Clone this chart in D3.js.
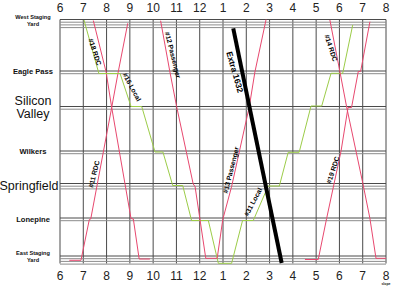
<!DOCTYPE html>
<html>
<head>
<meta charset="utf-8">
<script src="https://cdn.jsdelivr.net/npm/d3@7"></script>
<style>
  body { margin: 0; background: #fff; }
  svg { display: block; font-family: 'Liberation Sans', Arial, sans-serif; }
</style>
</head>
<body>
<svg id="chart" width="400" height="286"></svg>
<script>
// hours of the day, 6am .. 8pm
const hours = [6, 7, 8, 9, 10, 11, 12, 13, 14, 15, 16, 17, 18, 19, 20];
const hourLabels = ['6', '7', '8', '9', '10', '11', '12', '1', '2', '3', '4', '5', '6', '7', '8'];

// stations along the line (milepost from the west end) and number of tracks drawn
const stations = ['West Staging Yard', 'Eagle Pass', 'Silicon Valley', 'Wilkers', 'Springfield', 'Lonepine', 'East Staging Yard'];
const mileposts = [0, 51.5, 87, 131.5, 164, 198.5, 236.5];
const trackCounts = [4, 2, 2, 2, 3, 2, 4];

// trains: [hour, milepost] for each timetable point
const trainNames = ['#18 RDC', '#11 RDC', '#16 Local', '#31 Local', '#12 Passenger', '#13 Passenger', 'Extra 1632', '#14 RDC', '#19 RDC'];
const trainTypes = ['rdc', 'rdc', 'local', 'local', 'passenger', 'passenger', 'extra', 'rdc', 'rdc'];
const trainRuns = [
  [[7.43, 1], [7.98, 52.5], [8.22, 88], [9.05, 199], [9.15, 199.5], [9.40, 239.5], [9.86, 239.5]],
  [[6.40, 240.8], [6.90, 240.8], [7.26, 200], [7.32, 199.5], [8.22, 88], [8.50, 52.5], [8.91, 3.8]],
  [[7.03, 0.5], [7.67, 54], [8.58, 54], [9.05, 87], [9.51, 87], [10.08, 132.5], [10.42, 132.5],
   [10.84, 166], [11.27, 166], [11.65, 201], [12.37, 201], [12.80, 243.8], [13.37, 243.8]],
  [[13.37, 243.8], [13.84, 201], [14.30, 201], [14.94, 166.5], [15.42, 166.5], [15.80, 132.8],
   [16.27, 132.8], [16.78, 86.5], [17.24, 86.5], [17.64, 53.8], [18.14, 53.8], [18.57, 5.5]],
  [[10.32, 1.2], [10.72, 52.5], [11.01, 87.2], [11.72, 164.5], [11.80, 167], [12.26, 238.8], [12.75, 238.8]],
  [[12.75, 238.8], [12.99, 200], [13.37, 167], [14.13, 87], [14.37, 52.5], [14.85, 0]],
  [[13.44, 8.8], [15.52, 243.5]],
  [[17.59, 0.5], [18.02, 52.2], [18.31, 87.5], [19.02, 165.5], [19.31, 199], [19.57, 238.8], [20.0, 238.8]],
  [[16.52, 240], [17.09, 240], [17.45, 199], [18.07, 131.5], [18.37, 88], [18.52, 88], [18.81, 52],
   [18.91, 52], [19.31, 2.2]]
];

const colors = { rdc: '#e8486f', passenger: '#e8486f', local: '#9ccc48', extra: '#000' };
const widths = { rdc: 1, passenger: 1, local: 1, extra: 4 };

// where each train name sits (hour, milepost) and its slant
const labelSpots = [[7.50, 32.5, 72], [7.46, 154.5, -76], [9.09, 67.5, 62], [14.29, 182.5, -62],
  [10.85, 35.5, 76], [13.34, 150.5, -76], [13.51, 52.5, 74], [17.64, 28.5, 72], [17.72, 150.5, -72]];

const svg = d3.select('#chart');

const x = d3.scaleLinear().domain([6, 20]).range([60, 386]);
const y = d3.scaleLinear().domain([0, 244]).range([19.5, 263.5]);
const trackGap = 2.7;

// hour grid
svg.append('g')
  .selectAll('line')
  .data(hours)
  .enter()
  .append('line')
  .attr('x1', (h) => x(h))
  .attr('x2', (h) => x(h))
  .attr('y1', y(0))
  .attr('y2', y(244))
  .attr('stroke', '#4a4a4a')
  .attr('stroke-width', 1);

// station tracks
const tracks = [];
stations.forEach((s, i) => {
  d3.range(trackCounts[i]).forEach((k) => tracks.push({ mp: mileposts[i], k: k }));
});
svg.append('g')
  .selectAll('line')
  .data(tracks)
  .enter()
  .append('line')
  .attr('x1', x(6))
  .attr('x2', x(20))
  .attr('y1', (t) => y(t.mp) + t.k * trackGap)
  .attr('y2', (t) => y(t.mp) + t.k * trackGap)
  .attr('stroke', (t) => (t.k === 0 ? '#4a4a4a' : '#8c8c8c'))
  .attr('stroke-width', 1);

// hour labels top and bottom
[11.5, 280].forEach((base) => {
  svg.append('g')
    .selectAll('text')
    .data(hours)
    .enter()
    .append('text')
    .attr('x', (h) => x(h))
    .attr('y', base)
    .attr('text-anchor', 'middle')
    .attr('font-size', '12px')
    .attr('fill', '#222')
    .text((h, i) => hourLabels[i]);
});

// station names
const stationStyle = [
  { lines: ['West Staging', 'Yard'], size: 5.6, bold: true, dy: [-1, 6] },
  { lines: ['Eagle Pass'], size: 7.6, bold: true, dy: [3] },
  { lines: ['Silicon', 'Valley'], size: 12.5, bold: false, dy: [-2, 11.5] },
  { lines: ['Wilkers'], size: 7.6, bold: true, dy: [2.5] },
  { lines: ['Springfield'], size: 12.5, bold: false, dy: [6] },
  { lines: ['Lonepine'], size: 7.6, bold: true, dy: [4] },
  { lines: ['East Staging', 'Yard'], size: 5.6, bold: true, dy: [-1, 6] }
];
stations.forEach((s, i) => {
  const st = stationStyle[i];
  const t = svg.append('text')
    .attr('text-anchor', 'middle')
    .attr('font-size', `${st.size}px`)
    .attr('font-weight', st.bold ? 'bold' : 'normal')
    .attr('fill', '#111');
  st.lines.forEach((ln, j) => {
    t.append('tspan')
      .attr('x', i === 4 ? 29 : 33)
      .attr('y', y(mileposts[i]) + st.dy[j])
      .text(ln);
  });
});

// train paths
const line = d3.line()
  .x((d) => x(d[0]))
  .y((d) => y(d[1]));

svg.append('g')
  .selectAll('path')
  .data(trainRuns)
  .enter()
  .append('path')
  .attr('d', line)
  .attr('fill', 'none')
  .attr('stroke', (d, i) => colors[trainTypes[i]])
  .attr('stroke-width', (d, i) => widths[trainTypes[i]])
  .attr('stroke-linejoin', 'miter');

// train names
svg.append('g')
  .selectAll('text')
  .data(trainNames)
  .enter()
  .append('text')
  .attr(
    'transform',
    (n, i) => `translate(${x(labelSpots[i][0])},${y(labelSpots[i][1])}) rotate(${labelSpots[i][2]})`
  )
  .attr('text-anchor', 'middle')
  .attr('dy', '0.35em')
  .attr('font-size', (n, i) => (trainTypes[i] === 'extra' ? '8.5px' : '6.8px'))
  .attr('font-weight', 'bold')
  .attr('fill', '#000')
  .text((n) => n);

// tiny unit note under the last hour
svg.append('text')
  .attr('x', x(20))
  .attr('y', 284.5)
  .attr('text-anchor', 'middle')
  .attr('font-size', '3.5px')
  .attr('font-weight', 'bold')
  .attr('fill', '#222')
  .text('slope');
</script>
</body>
</html>
